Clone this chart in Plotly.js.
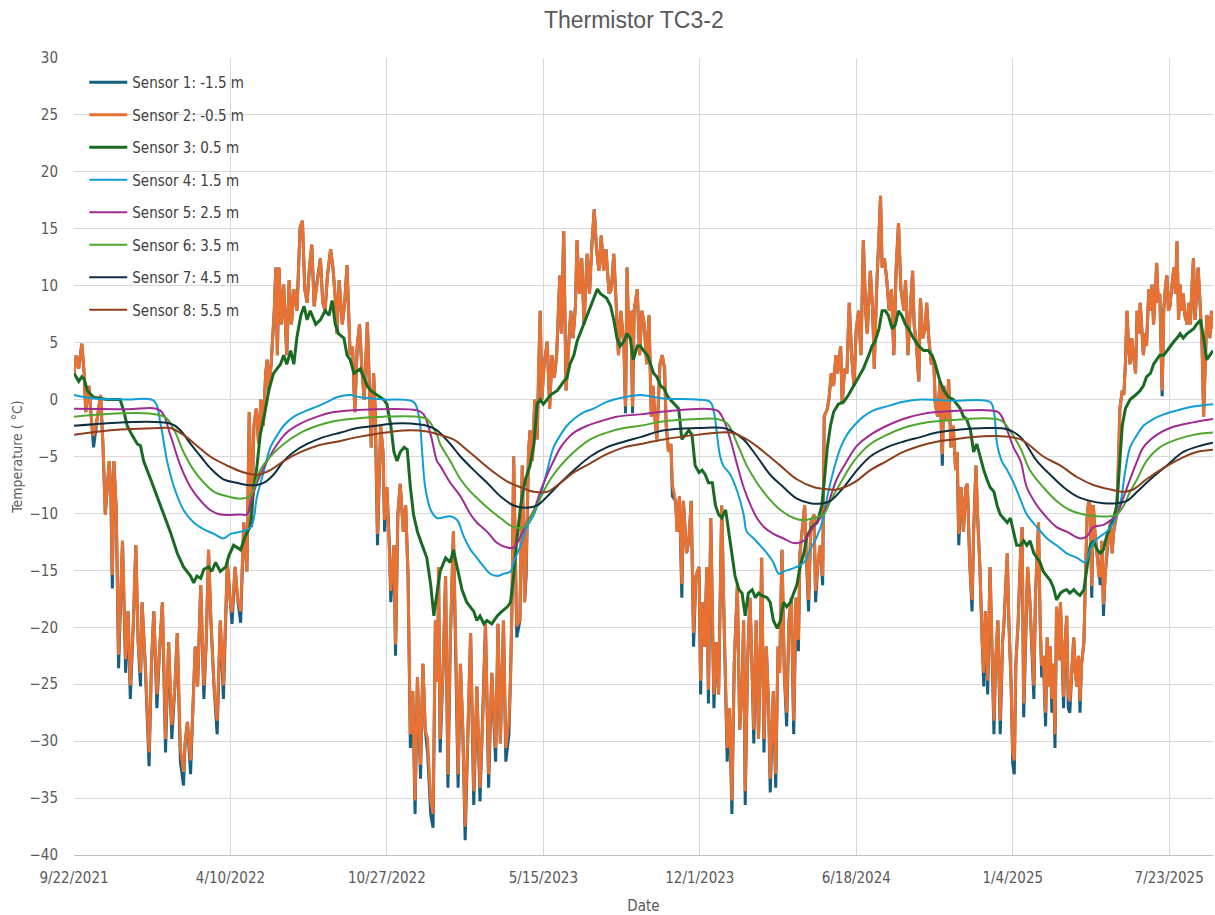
<!DOCTYPE html>
<html>
<head>
<meta charset="utf-8">
<script src="https://cdn.plot.ly/plotly-3.0.1.min.js"></script>
<style>html,body{margin:0;padding:0;background:#fff;}#chart{width:1215px;height:915px;}</style>
</head>
<body>
<div id="chart"></div>
<script>
// ---- data: day offsets from 9/22/2021, temperatures in degC ----
const startDate = '2021-09-22';
const endDate = '2025-09-17';

const tickDates = ['2021-09-22','2022-04-10','2022-10-27','2023-05-15','2023-12-01','2024-06-18','2025-01-04','2025-07-23'];
const tickLabels = ['9/22/2021','4/10/2022','10/27/2022','5/15/2023','12/1/2023','6/18/2024','1/4/2025','7/23/2025'];

const seriesNames = ['Sensor 1: -1.5 m','Sensor 2: -0.5 m','Sensor 3: 0.5 m','Sensor 4: 1.5 m','Sensor 5: 2.5 m','Sensor 6: 3.5 m','Sensor 7: 4.5 m','Sensor 8: 5.5 m'];

// Sensors 1 and 2 share sampling days
const noisyDays = [
0,3,6,10,13,15,19,23,25,30,
34,37,40,45,47,49,51,54,57,62,
66,69,72,76,79,82,85,87,91,96,
99,102,106,109,113,117,119,121,125,129,
132,136,140,142,145,149,152,155,158,162,
166,169,172,175,179,183,187,191,196,199,
202,206,209,213,217,221,224,227,230,233,
236,239,242,245,247,249,252,256,258,260,
262,265,268,272,275,278,281,285,289,292,
295,298,301,304,307,311,315,318,321,324,
328,331,334,336,339,343,346,349,353,356,
359,362,365,368,371,375,378,380,383,385,
388,392,395,397,400,403,405,409,411,414,
417,421,424,427,430,433,436,439,443,446,
449,452,456,459,462,465,466,468,472,475,
478,481,485,488,491,494,497,500,503,507,
511,515,519,523,526,530,534,539,542,545,
549,552,556,558,560,562,566,570,573,576,
578,581,583,586,589,592,594,596,598,601,
605,608,611,614,617,621,623,626,629,632,
635,638,641,643,646,649,652,656,659,662,
665,668,671,674,677,680,684,687,690,693,
696,699,703,705,707,709,712,714,716,720,
723,726,729,732,735,738,740,743,745,749,
752,755,757,760,763,765,769,771,774,777,
779,783,786,789,792,795,799,801,803,806,
809,811,814,818,821,824,828,831,835,838,
841,844,848,851,854,856,858,861,864,866,
869,872,875,877,879,882,885,888,890,894,
897,900,902,905,908,911,914,917,920,923,
926,928,931,934,936,939,942,946,948,951,
954,957,959,963,965,968,971,974,976,980,
982,985,988,991,994,997,1000,1003,1006,1009,
1012,1014,1018,1021,1023,1026,1029,1031,1033,1036,
1039,1042,1045,1048,1051,1054,1057,1061,1063,1066,
1069,1072,1074,1077,1080,1082,1085,1088,1090,1093,
1096,1099,1101,1104,1107,1110,1112,1116,1118,1121,
1124,1127,1129,1131,1134,1137,1140,1142,1145,1148,
1150,1153,1155,1158,1161,1163,1165,1168,1171,1173,
1176,1178,1181,1184,1187,1189,1193,1195,1198,1200,
1202,1204,1207,1210,1212,1214,1217,1219,1222,1225,
1227,1229,1231,1233,1235,1237,1239,1242,1244,1246,
1248,1250,1252,1254,1256,1259,1261,1263,1265,1267,
1269,1271,1273,1276,1278,1280,1282,1284,1286,1288,
1291,1293,1295,1297,1299,1301,1303,1305,1308,1310,
1312,1314,1316,1318,1320,1322,1325,1327,1329,1331,
1333,1335,1337,1340,1342,1344,1346,1348,1350,1352,
1354,1357,1359,1361,1363,1365,1367,1369,1371,1374,
1376,1378,1380,1382,1384,1386,1388,1391,1393,1395,
1397,1399,1401,1403,1406,1408,1410,1412,1414,1416,
1418,1420,1423,1425,1427,1429,1431,1433,1435,1437,
1440,1442,1444,1446,1448,1450,1452,1454,1456
];

const sensor2Vals = [
2.3,3.9,2.7,4.9,2.3,-1.1,1.2,-2.3,-3.2,-1.5,
0.4,-3.9,-10.1,-5.4,-7.7,-15.4,-5.4,-9.7,-22.4,-12.4,
-22.8,-18.6,-25.1,-19.4,-12.8,-21.3,-24.0,-17.8,-23.2,-31.0,
-23.2,-18.6,-25.9,-22.5,-17.8,-29.8,-25.2,-21.3,-28.6,-25.2,
-20.5,-30.6,-32.7,-30.2,-28.3,-31.7,-27.1,-21.7,-25.2,-16.3,
-25.1,-21.3,-13.2,-19.4,-25.2,-28.2,-19.4,-25.1,-14.3,-17.4,
-18.7,-14.7,-17.4,-18.6,-10.8,-15.1,-1.1,-10.2,-2.3,-0.8,
-3.9,0,-2.3,2.3,3.5,0.8,3.1,7.8,11.6,3.9,
11.6,6.6,10.1,3.9,10.5,6.6,9.7,7.8,15.1,15.7,
9.7,8.5,11.6,13.6,8.2,10.5,12.4,8.5,7.8,10.9,
13.2,11.6,8.9,5.8,10.5,6.6,8.5,11.8,3.9,4.7,
-1.1,4.7,6.6,2.7,0,6.8,0.8,-4.2,2.3,-0.8,
-11.8,-2.3,-4.6,-10.6,-7.7,-12.4,-16.8,-12.8,-21.5,-10.1,
-7.4,-11.6,-9.3,-15.5,-29.4,-25.6,-35.2,-24.4,-32.1,-23.2,
-29.0,-29.8,-35.2,-36.4,-19.4,-24.8,-14.7,-29.8,-23.2,-15.5,
-32.9,-21.3,-11.6,-21.3,-32.9,-23.2,-29.0,-37.5,-31.0,-20.5,
-34.4,-25.2,-34.1,-27.1,-19.7,-32.9,-24.0,-30.6,-19.7,-30.2,
-19.4,-30.6,-28.2,-24.4,-17.8,-5.0,-19.9,-19.4,-5.8,-17.8,
-14.5,-4.6,-2.7,-5.4,0,-3.5,3.1,7.8,0,3.1,
5.1,-0.8,3.9,1.9,3.9,10.9,5.8,14.8,0.8,3.9,
7.8,5.4,8.2,14.0,9.3,12.4,6.6,12.8,9.3,13.6,
16.7,13.2,11.3,14.4,11.3,13.2,9.3,9.7,12.8,8.5,
3.9,7.8,4.7,-0.6,11.6,5.4,7.8,-0.6,7.8,9.7,
3.9,7.8,6.6,3.1,7.4,-1.5,1.2,-1.9,-3.5,3.1,
3.9,2.7,-2.3,-4.6,-3.9,-7.5,-8.9,-11.6,-8.5,-16.2,
-8.9,-13.5,-12.4,-8.9,-20.5,-15.5,-14.7,-24.7,-17.8,-21.7,
-14.7,-25.5,-10.4,-25.9,-21.3,-25.9,-9.3,-19.4,-30.6,-27.1,
-35.2,-23.2,-16.3,-29.0,-25.2,-19.4,-34.4,-23.2,-17.4,-21.7,
-29.0,-19.4,-29.8,-23.2,-13.9,-29.8,-21.7,-27.1,-33.3,-25.6,
-32.9,-21.7,-24.0,-13.2,-24.0,-27.5,-19.4,-17.4,-28.2,-17.4,
-21.1,-13.5,-11.6,-9.3,-13.5,-17.6,-10.8,-10.1,-16.8,-14.3,
-12.8,-15.5,-1.5,-0.8,0,2.3,1.2,3.9,2.3,4.7,
-0.4,2.7,2.3,8.5,3.9,1.2,6.2,7.8,3.9,14.0,
7.8,5.8,11.3,7.8,2.7,9.7,14.4,17.9,11.6,12.4,
10.5,7.8,9.7,3.9,11.6,15.5,9.7,7.8,10.5,3.9,
7.8,11.3,6.6,4.7,1.6,8.9,5.4,6.2,8.5,5.1,
3.1,3.5,-0.4,-1.5,1.6,-4.8,1.2,-1.9,1.8,-4.2,
-2.3,-6.2,-4.6,-11.8,-7.7,-11.6,-7.7,-7.4,-14.3,-17.6,
-11.6,-5.8,-10.1,-14.7,-21.3,-24.0,-18.6,-24.7,-14.7,-21.3,
-28.2,-23.2,-19.4,-28.2,-21.3,-19.4,-13.5,-19.4,-25.2,-31.0,
-31.7,-23.2,-19.4,-13.5,-11.2,-26.7,-19.4,-14.7,-17.8,-23.2,
-25.1,-17.4,-14.7,-10.8,-19.4,-23.4,-22.5,-27.5,-20.9,-25.2,
-21.7,-26.3,-23.2,-29.4,-18.2,-22.9,-17.8,-23.2,-26.1,-21.3,
-19.0,-26.1,-26.5,-23.2,-20.9,-24.0,-25.2,-22.5,-26.5,-23.2,
-21.3,-15.5,-10.4,-8.9,-9.3,-16.4,-9.3,-11.6,-13.9,-15.5,
-15.5,-12.4,-18.0,-15.5,-13.5,-12.4,-10.8,-13.5,-11.6,-10.8,
-10.1,-5.8,-0.8,0.8,0.4,3.1,7.8,4.7,3.1,5.4,
3.9,2.3,7.8,5.8,8.5,6.2,3.9,5.8,4.7,9.7,
7.8,10.1,6.6,8.9,12.0,8.5,9.3,0.8,7.8,9.7,
10.9,7.8,8.2,9.7,11.6,9.3,13.9,7.0,10.1,7.8,
9.3,7.4,6.6,8.5,6.6,9.7,12.4,7.0,9.3,11.6,
7.8,4.7,-1.5,3.9,7.4,7.0,5.4,7.8,6.2
];

const sensor1Vals = [
2.3,3.9,2.7,4.9,2.3,-1.1,1.2,-2.3,-4.2,-1.5,
0.4,-3.9,-10.1,-5.4,-7.7,-16.6,-5.4,-9.7,-23.6,-12.4,
-24.0,-18.6,-26.3,-19.4,-12.8,-21.3,-25.2,-17.8,-23.2,-32.2,
-23.2,-18.6,-27.1,-22.5,-17.8,-31.0,-25.2,-21.3,-29.8,-25.2,
-20.5,-31.8,-33.9,-30.2,-28.3,-32.9,-27.1,-21.7,-25.2,-16.3,
-26.3,-21.3,-13.2,-19.4,-25.2,-29.4,-19.4,-26.3,-14.3,-17.4,
-19.7,-14.7,-17.4,-19.6,-10.8,-15.1,-1.1,-11.2,-2.3,-0.8,
-3.9,0,-2.3,2.3,3.5,0.8,3.1,7.8,11.6,3.9,
11.6,6.6,10.1,3.9,10.5,6.6,9.7,7.8,15.1,15.7,
9.7,8.5,11.6,13.6,8.2,10.5,12.4,8.5,7.8,10.9,
13.2,11.6,8.9,5.8,10.5,6.6,8.5,11.8,3.9,4.7,
-1.1,4.7,6.6,2.7,0,6.8,0.8,-4.2,2.3,-0.8,
-12.8,-2.3,-4.6,-11.6,-7.7,-12.4,-17.8,-12.8,-22.5,-10.1,
-7.4,-11.6,-9.3,-15.5,-30.6,-25.6,-36.4,-24.4,-33.3,-23.2,
-29.0,-31.0,-36.4,-37.6,-19.4,-24.8,-14.7,-31.0,-23.2,-15.5,
-34.1,-21.3,-11.6,-21.3,-34.1,-23.2,-29.0,-38.7,-31.0,-20.5,
-35.6,-25.2,-35.3,-27.1,-19.7,-34.1,-24.0,-31.8,-19.7,-30.2,
-19.4,-31.8,-29.4,-24.4,-17.8,-5.0,-20.9,-19.4,-5.8,-17.8,
-15.5,-4.6,-2.7,-5.4,0,-3.5,3.1,7.8,0,3.1,
5.1,-0.8,3.9,1.9,3.9,10.9,5.8,14.8,0.8,3.9,
7.8,5.4,8.2,14.0,9.3,12.4,6.6,12.8,9.3,13.6,
16.7,13.2,11.3,14.4,11.3,13.2,9.3,9.7,12.8,8.5,
3.9,7.8,4.7,-1.2,11.6,5.4,7.8,-1.2,7.8,9.7,
3.9,7.8,6.6,3.1,7.4,-1.5,1.2,-1.9,-3.5,3.1,
3.9,2.7,-2.3,-4.6,-3.9,-8.5,-8.9,-11.6,-8.5,-17.4,
-8.9,-13.5,-12.4,-8.9,-21.7,-15.5,-14.7,-25.9,-17.8,-21.7,
-14.7,-26.7,-10.4,-27.1,-21.3,-25.9,-9.3,-19.4,-31.8,-27.1,
-36.4,-23.2,-16.3,-29.0,-25.2,-19.4,-35.6,-23.2,-17.4,-21.7,
-30.2,-19.4,-29.8,-23.2,-13.9,-31.0,-21.7,-27.1,-34.5,-25.6,
-34.1,-21.7,-24.0,-13.2,-24.0,-28.7,-19.4,-17.4,-29.4,-17.4,
-22.1,-13.5,-11.6,-9.3,-13.5,-18.6,-10.8,-10.1,-17.8,-14.3,
-12.8,-16.3,-1.5,-0.8,0,2.3,1.2,3.9,2.3,4.7,
-0.4,2.7,2.3,8.5,3.9,1.2,6.2,7.8,3.9,14.0,
7.8,5.8,11.3,7.8,2.7,9.7,14.4,17.9,11.6,12.4,
10.5,7.8,9.7,3.9,11.6,15.5,9.7,7.8,10.5,3.9,
7.8,11.3,6.6,4.7,1.6,8.9,5.4,6.2,8.5,5.1,
3.1,3.5,-0.4,-1.5,1.6,-5.8,1.2,-1.9,1.8,-4.2,
-2.3,-6.2,-4.6,-12.8,-7.7,-11.6,-7.7,-7.4,-14.3,-18.6,
-11.6,-5.8,-10.1,-14.7,-21.3,-25.2,-18.6,-25.9,-14.7,-21.3,
-29.4,-23.2,-19.4,-29.4,-21.3,-19.4,-13.5,-19.4,-25.2,-32.0,
-32.9,-23.2,-19.4,-13.5,-11.2,-27.9,-19.4,-14.7,-17.8,-23.2,
-26.3,-17.4,-14.7,-10.8,-19.4,-24.4,-22.5,-28.7,-20.9,-25.2,
-21.7,-27.5,-23.2,-30.6,-18.2,-22.9,-17.8,-23.2,-27.1,-21.3,
-19.0,-27.1,-27.5,-23.2,-20.9,-24.0,-25.2,-22.5,-27.5,-23.2,
-21.3,-15.5,-10.4,-8.9,-9.3,-17.4,-9.3,-11.6,-13.9,-15.5,
-16.3,-12.4,-19.0,-15.5,-13.5,-12.4,-10.8,-13.5,-11.6,-10.8,
-10.1,-5.8,-0.8,0.8,0.4,3.1,7.8,4.7,3.1,5.4,
3.9,2.3,7.8,5.8,8.5,6.2,3.9,5.8,4.7,9.7,
7.8,10.1,6.6,8.9,12.0,8.5,9.3,0.3,7.8,9.7,
10.9,7.8,8.2,9.7,11.6,9.3,13.9,7.0,10.1,7.8,
9.3,7.4,6.6,8.5,6.6,9.7,12.4,7.0,9.3,11.6,
7.8,4.7,-1.5,3.9,7.4,7.0,5.4,7.8,6.2
];

// Sensor 3..8: [day, value] points
const sensor3 = [
[0,2.3],[6,1.6],[10,2.0],[13,1.8],[17,0.8],[25,0.2],[42,0],[59,0],[64,-1.1],[68,-2.3],
[74,-3.1],[81,-3.9],[85,-4.05],[89,-5.4],[98,-7.0],[106,-8.5],[115,-10.1],[123,-11.6],[132,-13.5],[140,-14.7],
[149,-15.5],[153,-16.1],[157,-15.5],[162,-15.7],[166,-14.9],[172,-14.7],[176,-15.1],[181,-14.3],[187,-15.1],[194,-14.7],
[198,-13.7],[204,-12.8],[213,-13.2],[219,-12.0],[225,-11.2],[230,-7.7],[234,-5.8],[238,-3.1],[243,-1.5],[249,0.8],
[255,2.3],[264,3.1],[268,3.9],[272,3.1],[277,4.3],[281,3.1],[285,5.5],[290,7.4],[294,8.2],[298,7.0],
[302,7.8],[309,6.6],[315,7.0],[321,7.8],[326,7.4],[330,8.7],[334,6.6],[338,5.8],[345,5.4],[349,3.9],
[353,3.5],[358,2.3],[366,2.7],[375,1.2],[379,0.8],[387,0.4],[396,0],[400,-0.4],[405,-2.3],[409,-4.6],
[413,-5.4],[417,-4.6],[422,-4.2],[426,-4.4],[430,-7.7],[434,-10.1],[439,-11.6],[443,-12.4],[447,-13.2],[451,-13.9],
[456,-16.3],[460,-19.0],[464,-17.0],[468,-15.1],[475,-13.9],[481,-14.3],[485,-13.2],[490,-14.7],[496,-16.7],[502,-17.8],
[511,-18.6],[515,-19.4],[519,-19.0],[524,-19.7],[528,-19.4],[534,-19.7],[541,-19.0],[547,-18.6],[554,-18.2],[558,-17.8],
[562,-15.5],[566,-12.4],[571,-9.3],[577,-7.0],[583,-5.8],[588,-3.9],[590,-2.3],[592,-0.4],[596,0],[600,-0.4],
[609,0.4],[618,0.8],[626,1.6],[630,1.9],[634,3.1],[639,3.9],[643,5.1],[647,5.8],[652,6.6],[656,7.4],
[662,8.5],[669,9.7],[673,9.3],[677,9.1],[681,8.9],[686,8.2],[690,7.0],[694,5.4],[698,4.7],[703,5.1],
[707,5.8],[711,5.4],[715,3.5],[720,4.7],[724,4.7],[728,4.3],[733,3.9],[737,3.1],[741,2.3],[745,2.0],
[750,1.2],[754,1.0],[758,0.4],[762,0],[767,-0.4],[773,-0.8],[777,-3.5],[781,-3.1],[786,-2.7],[790,-3.1],
[794,-5.8],[799,-6.4],[803,-6.2],[807,-6.6],[811,-7.3],[816,-7.3],[820,-9.3],[824,-10.1],[828,-10.4],[833,-9.7],
[837,-11.6],[841,-13.9],[845,-15.5],[850,-16.7],[854,-17.0],[858,-19.0],[862,-17.0],[867,-16.7],[871,-17.4],[875,-17.0],
[879,-17.2],[886,-17.4],[890,-17.8],[894,-19.4],[899,-20.1],[903,-19.4],[907,-17.8],[911,-18.2],[916,-17.8],[920,-17.0],
[924,-16.3],[928,-14.7],[933,-13.5],[937,-12.0],[943,-11.2],[950,-10.8],[956,-9.3],[960,-6.5],[963,-4.2],[967,-2.3],
[971,-1.1],[977,-0.4],[984,-0.2],[990,0.4],[997,1.2],[1003,1.9],[1009,2.7],[1016,3.9],[1020,4.7],[1024,5.1],
[1029,6.2],[1033,7.8],[1037,7.8],[1041,7.4],[1046,6.2],[1050,6.6],[1054,7.8],[1058,7.4],[1063,6.6],[1067,6.2],
[1073,5.4],[1080,4.7],[1086,4.3],[1092,4.3],[1097,3.9],[1101,3.1],[1107,1.6],[1112,0.8],[1118,0.2],[1124,0],
[1133,-0.8],[1137,-1.5],[1141,-1.7],[1146,-2.7],[1150,-4.6],[1154,-3.9],[1158,-5.0],[1163,-6.2],[1167,-7.0],[1171,-7.7],
[1176,-8.1],[1180,-9.3],[1184,-10.1],[1188,-10.4],[1193,-10.8],[1197,-10.4],[1201,-11.6],[1205,-12.8],[1210,-12.8],[1214,-12.4],
[1218,-12.8],[1222,-12.4],[1227,-13.5],[1231,-13.9],[1235,-14.3],[1239,-15.1],[1244,-15.5],[1248,-15.9],[1252,-16.5],[1256,-17.6],
[1261,-17.0],[1265,-16.8],[1269,-16.7],[1273,-17.0],[1278,-16.7],[1282,-17.0],[1286,-17.2],[1291,-16.7],[1295,-14.7],[1299,-12.8],
[1303,-12.4],[1308,-13.2],[1312,-13.5],[1316,-13.2],[1320,-12.0],[1325,-11.2],[1329,-10.4],[1333,-9.3],[1337,-5.4],[1340,-2.3],
[1344,-0.8],[1350,0],[1357,0.4],[1363,0.8],[1367,1.2],[1371,2.0],[1376,2.3],[1380,3.1],[1384,3.5],[1388,3.9],
[1393,3.9],[1397,4.3],[1401,4.7],[1406,5.1],[1410,5.4],[1414,5.8],[1418,5.4],[1423,5.8],[1427,6.0],[1431,6.2],
[1435,6.6],[1440,7.0],[1444,5.4],[1448,3.5],[1452,3.9],[1456,4.3]
];

const sensor4 = [
[0,0.4],[25,0.1],[68,0],[102,-0.1],[111,-2.3],[119,-5.4],[128,-7.7],[140,-9.7],[153,-10.8],[166,-11.4],
[179,-11.8],[191,-12.2],[200,-11.8],[213,-11.6],[226,-11.2],[234,-8.5],[243,-6.2],[251,-4.2],[260,-3.1],[268,-2.3],
[281,-1.5],[298,-0.95],[311,-0.6],[324,-0.2],[336,0.2],[353,0.4],[366,0.2],[396,0],[434,-0.2],[441,-1.5],
[445,-4.6],[449,-7.7],[456,-9.7],[464,-10.4],[481,-10.25],[490,-10.6],[498,-12.0],[507,-13.2],[515,-13.9],[524,-14.7],
[532,-15.3],[541,-15.5],[549,-15.3],[558,-15.1],[562,-14.3],[571,-12.8],[579,-11.2],[588,-10.1],[596,-8.5],[605,-6.2],
[613,-4.2],[622,-3.1],[630,-2.3],[639,-1.7],[652,-1.1],[664,-0.8],[681,-0.2],[703,0.2],[724,0.4],[754,0.1],
[796,0],[813,-0.2],[818,-1.1],[822,-3.1],[826,-5.0],[830,-5.8],[839,-6.6],[848,-8.1],[856,-10.1],[860,-11.6],
[869,-12.2],[877,-12.8],[886,-13.5],[894,-14.3],[901,-15.3],[907,-15.1],[916,-14.9],[924,-14.7],[933,-14.3],[941,-13.2],
[950,-12.0],[958,-10.4],[963,-8.5],[971,-6.2],[980,-4.2],[988,-3.1],[997,-2.3],[1009,-1.5],[1022,-0.95],[1039,-0.6],
[1060,-0.2],[1082,0],[1124,-0.1],[1171,-0.2],[1176,-1.1],[1180,-3.9],[1186,-5.4],[1193,-6.2],[1201,-7.3],[1210,-8.8],
[1218,-10.1],[1231,-11.2],[1244,-12.2],[1256,-12.8],[1269,-13.5],[1282,-13.9],[1293,-14.3],[1299,-13.2],[1305,-12.4],[1312,-12.0],
[1320,-11.6],[1329,-10.8],[1337,-9.3],[1344,-6.2],[1350,-4.2],[1359,-3.1],[1367,-2.3],[1380,-1.7],[1393,-1.3],[1410,-0.95],
[1431,-0.6],[1456,-0.4]
];

const sensor5 = [
[0,-0.8],[68,-0.85],[110,-0.95],[123,-3.1],[136,-5.8],[149,-7.7],[162,-8.9],[174,-9.7],[187,-10.1],[213,-10.1],
[221,-10.1],[226,-9.0],[234,-7.3],[247,-5.4],[260,-3.9],[272,-2.9],[290,-2.1],[311,-1.5],[332,-1.1],[353,-0.95],
[439,-0.95],[447,-1.3],[456,-3.1],[464,-5.4],[468,-5.8],[481,-7.3],[494,-8.5],[507,-10.1],[515,-10.8],[528,-11.6],
[541,-12.6],[554,-13.0],[562,-13.0],[571,-12.0],[579,-10.8],[588,-9.7],[596,-8.1],[605,-6.6],[613,-5.4],[622,-4.2],
[630,-3.5],[639,-2.9],[656,-2.3],[673,-1.9],[694,-1.5],[724,-1.3],[754,-1.05],[822,-0.95],[830,-1.7],[839,-3.5],
[848,-5.8],[856,-7.7],[865,-9.3],[873,-10.4],[882,-11.2],[894,-11.8],[907,-12.2],[920,-12.6],[933,-12.4],[943,-11.4],
[954,-10.4],[963,-9.3],[975,-7.0],[988,-5.4],[1001,-4.05],[1018,-3.1],[1039,-2.3],[1060,-1.7],[1082,-1.3],[1103,-1.1],
[1180,-1.05],[1186,-1.5],[1193,-2.7],[1201,-4.2],[1210,-5.4],[1218,-7.7],[1231,-9.3],[1244,-10.4],[1256,-11.2],[1269,-11.6],
[1286,-12.2],[1295,-12.0],[1303,-11.2],[1316,-11.0],[1325,-10.6],[1333,-10.1],[1342,-8.5],[1350,-7.0],[1359,-5.4],[1367,-4.2],
[1384,-3.1],[1401,-2.5],[1423,-2.1],[1456,-1.7]
];

const sensor6 = [
[0,-1.5],[115,-1.5],[128,-2.7],[140,-4.6],[153,-6.2],[166,-7.3],[179,-8.1],[196,-8.5],[213,-8.7],[225,-8.5],
[238,-6.2],[251,-5.0],[268,-3.9],[290,-2.9],[311,-2.3],[332,-1.9],[353,-1.7],[396,-1.5],[439,-1.5],[451,-1.7],
[464,-3.1],[468,-3.9],[481,-5.4],[494,-7.0],[507,-8.1],[519,-8.9],[532,-9.7],[545,-10.4],[562,-11.2],[575,-11.2],
[583,-10.4],[592,-9.3],[600,-8.1],[609,-7.0],[622,-5.8],[639,-4.6],[660,-3.5],[681,-2.9],[703,-2.5],[724,-2.3],
[754,-1.9],[796,-1.7],[822,-1.7],[835,-2.1],[848,-3.9],[860,-5.8],[873,-7.3],[886,-8.5],[903,-9.7],[920,-10.4],
[933,-10.6],[946,-10.4],[958,-10.1],[967,-8.9],[980,-7.3],[997,-5.4],[1018,-3.9],[1039,-3.1],[1060,-2.5],[1082,-2.1],
[1103,-1.9],[1124,-1.8],[1184,-1.8],[1197,-2.8],[1210,-4.3],[1222,-6.2],[1239,-7.7],[1256,-8.9],[1273,-9.7],[1291,-10.1],
[1308,-10.25],[1325,-10.25],[1333,-10.1],[1342,-9.3],[1350,-8.1],[1359,-7.0],[1371,-5.4],[1388,-4.2],[1410,-3.5],[1431,-3.1],
[1456,-2.9]
];

const sensor7 = [
[0,-2.3],[123,-2.1],[136,-2.7],[149,-3.9],[162,-5.0],[174,-6.0],[191,-7.0],[208,-7.3],[221,-7.5],[234,-7.5],
[243,-7.3],[255,-6.6],[268,-5.4],[281,-4.6],[298,-3.9],[319,-3.3],[341,-2.9],[362,-2.5],[387,-2.3],[409,-2.1],
[430,-2.1],[451,-2.3],[464,-2.7],[481,-3.9],[494,-5.0],[511,-6.2],[528,-7.3],[545,-8.5],[562,-9.3],[579,-9.5],
[592,-9.3],[605,-8.5],[622,-7.3],[639,-6.2],[660,-5.0],[681,-4.2],[703,-3.7],[724,-3.3],[754,-2.7],[796,-2.5],
[830,-2.5],[839,-2.7],[856,-3.5],[873,-5.0],[890,-6.6],[907,-7.7],[924,-8.7],[941,-9.1],[958,-9.1],[967,-8.9],
[984,-7.7],[1001,-6.2],[1018,-5.0],[1039,-4.2],[1060,-3.7],[1082,-3.3],[1103,-2.9],[1124,-2.7],[1167,-2.5],[1193,-2.6],
[1210,-3.3],[1231,-5.4],[1248,-6.6],[1265,-7.7],[1282,-8.5],[1299,-8.9],[1316,-9.1],[1333,-9.1],[1346,-8.9],[1359,-8.1],
[1376,-7.0],[1397,-5.8],[1418,-4.6],[1440,-4.05],[1456,-3.8]
];

const sensor8 = [
[0,-3.1],[47,-2.7],[110,-2.5],[123,-2.5],[140,-3.1],[157,-4.05],[174,-5.0],[196,-5.8],[217,-6.4],[234,-6.6],
[251,-6.2],[268,-5.4],[290,-4.6],[311,-4.05],[336,-3.7],[362,-3.3],[387,-3.0],[409,-2.8],[430,-2.7],[451,-2.8],
[468,-3.1],[485,-3.5],[502,-4.4],[519,-5.4],[537,-6.4],[554,-7.2],[571,-7.7],[588,-8.1],[605,-8.1],[622,-7.3],
[639,-6.4],[660,-5.6],[681,-4.8],[703,-4.2],[724,-3.9],[754,-3.5],[796,-3.1],[839,-2.9],[860,-3.5],[882,-4.6],
[903,-5.8],[924,-7.0],[946,-7.7],[967,-7.9],[975,-7.9],[997,-7.3],[1018,-6.2],[1039,-5.4],[1060,-4.6],[1082,-4.05],
[1103,-3.7],[1124,-3.5],[1146,-3.3],[1180,-3.2],[1210,-3.5],[1239,-5.0],[1261,-5.8],[1282,-6.8],[1303,-7.5],[1325,-7.9],
[1342,-8.1],[1354,-7.9],[1371,-7.0],[1393,-6.0],[1414,-5.2],[1435,-4.6],[1456,-4.4]
];

const seriesColors = ['#156082','#e97132','#196b24','#0f9ed5','#a02b93','#4ea72e','#0d2f40','#8c3f1c'];

// ---- helpers ----
const base = Date.parse(startDate + 'T00:00:00Z');
function dayToDate(d){ return new Date(base + d*86400000).toISOString().slice(0,10); }

const traces = [];
function addTrace(idx, days, vals, width, shape){
  traces.push({
    type:'scatter', mode:'lines', name: seriesNames[idx],
    x: days.map(dayToDate), y: vals,
    line:{color: seriesColors[idx], width: width, shape: shape||'linear'},
    legendgroup: 'g'+idx, hoverinfo:'skip'
  });
}
addTrace(0, noisyDays, sensor1Vals, 3);
addTrace(1, noisyDays, sensor2Vals, 3);
addTrace(2, sensor3.map(p=>p[0]), sensor3.map(p=>p[1]), 3);
[sensor4,sensor5,sensor6,sensor7,sensor8].forEach((s,i)=>{
  addTrace(i+3, s.map(p=>p[0]), s.map(p=>p[1]), 2, 'spline');
});

const narrowFont = '"DejaVu Sans Condensed", "Liberation Sans Narrow", "Liberation Sans", Arial, sans-serif';
const tickFont = {family:narrowFont, size:15, color:'#595959'};

const layout = {
  width:1215, height:915,
  margin:{l:74, r:2, t:58, b:60},
  paper_bgcolor:'#ffffff', plot_bgcolor:'#ffffff',
  title:{text:'Thermistor TC3-2', font:{family:'"Liberation Sans", Arial, sans-serif', size:23, color:'#595959'},
         xref:'paper', x:0.4915, xanchor:'center', yref:'container', y:0.978, yanchor:'middle'},
  showlegend:true,
  legend:{x:0.009, y:0.99, xanchor:'left', yanchor:'top', bgcolor:'rgba(0,0,0,0)',
          font:{family:narrowFont, size:15, color:'#404040'},
          tracegroupgap:10, itemwidth:38},
  xaxis:{type:'date', range:[startDate, endDate], tickmode:'array', tickvals:tickDates, ticktext:tickLabels,
         tickfont:tickFont, showgrid:true, gridcolor:'#d9d9d9', gridwidth:1, zeroline:false,
         showline:true, linecolor:'#bfbfbf', linewidth:1, ticks:'', automargin:false, ticklabelstandoff:9,
         title:{text:'Date', font:{family:narrowFont, size:15, color:'#595959'}, standoff:16}},
  yaxis:{range:[-40,30], dtick:5, tick0:0, tickfont:tickFont, showgrid:true, gridcolor:'#d9d9d9', gridwidth:1,
         zeroline:false, showline:false, ticks:'', automargin:false, ticklabelstandoff:15,
         title:{text:'Temperature ( °C)', font:{family:narrowFont, size:14, color:'#595959'}, standoff:3}}
};

Plotly.newPlot('chart', traces, layout, {displayModeBar:false, staticPlot:true});
</script>
</body>
</html>
